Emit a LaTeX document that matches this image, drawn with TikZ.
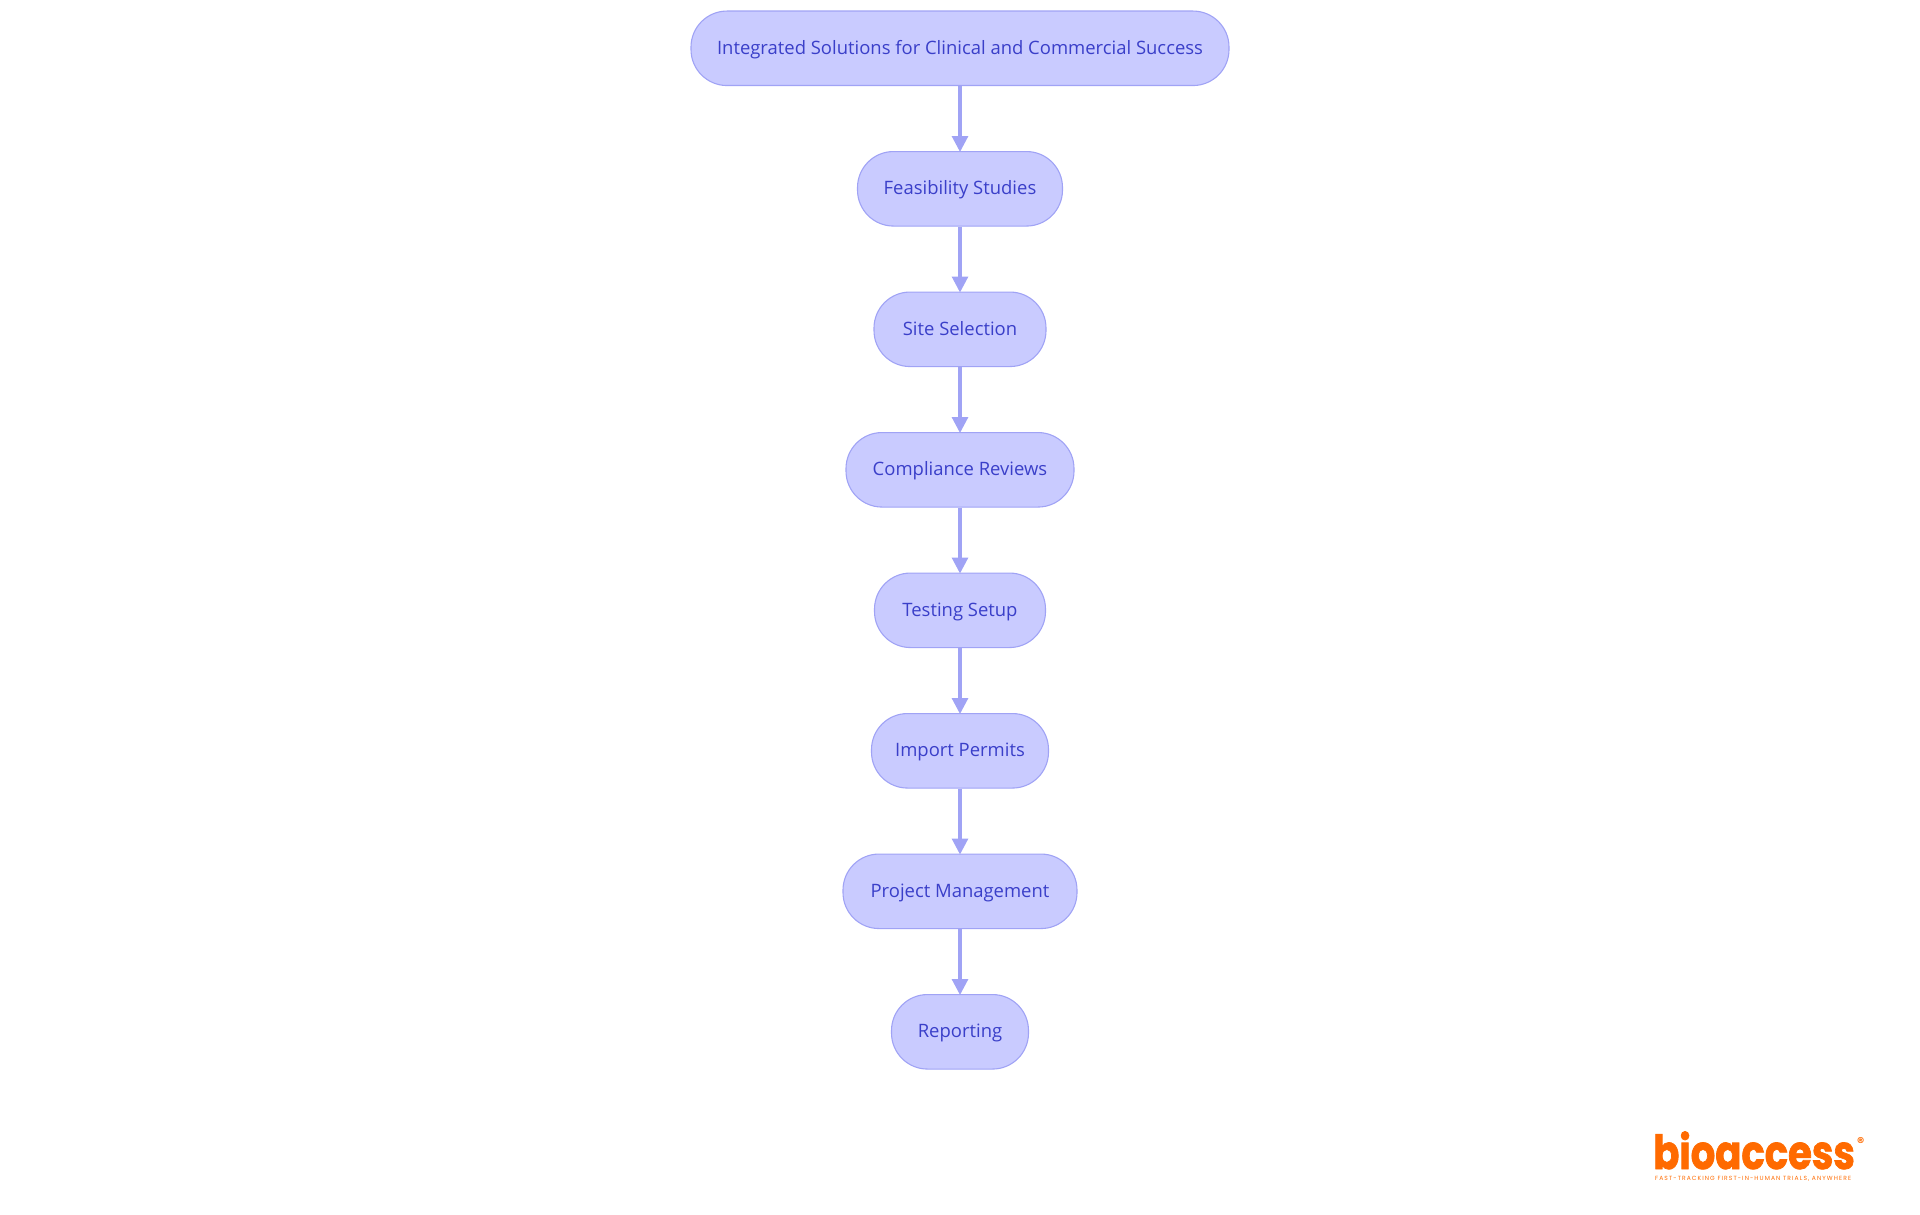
\documentclass[tikz,border=0pt]{standalone}
\usepackage{fontspec}
\setmainfont{Open Sans}
\newfontfamily\logofont[FakeStretch=0.82,FakeBold=1.5]{Poppins}
\newfontfamily\tagfont[LetterSpace=18]{Poppins}
\newfontfamily\regfont{Poppins}
\usetikzlibrary{arrows.meta}
\definecolor{nodefill}{HTML}{C9CBFF}
\definecolor{nodeline}{HTML}{A0A3F5}
\definecolor{nodetext}{HTML}{3A3FC9}
\definecolor{logoorange}{HTML}{FF6A00}
\tikzset{
  flowbox/.style={draw=nodeline,fill=nodefill,text=nodetext,line width=1.1pt,rounded corners=36pt,
    minimum height=74.5pt,inner sep=0pt,font=\fontsize{18.45pt}{23pt}\selectfont,text height=14pt,text depth=2.5pt},
  flowarrow/.style={draw=nodeline,line width=3.05pt,-{Triangle[length=16pt,width=16pt,fill=nodeline]},shorten >=-1pt},
  logotext/.style={text=logoorange,inner sep=0pt,anchor=base west}
}
\begin{document}
\begin{tikzpicture}[x=1pt,y=-1pt]
\useasboundingbox (0,0) rectangle (1920,1215);
\node[flowbox,minimum width=538pt] (a) at (960,48.3) {Integrated Solutions for Clinical and Commercial Success};
\node[flowbox,minimum width=205pt] (b) at (960,188.8) {Feasibility Studies};
\node[flowbox,minimum width=172pt] (c) at (960,329.3) {Site Selection};
\node[flowbox,minimum width=228pt] (d) at (960,469.8) {Compliance Reviews};
\node[flowbox,minimum width=171pt] (e) at (960,610.3) {Testing Setup};
\node[flowbox,minimum width=177pt] (f) at (960,750.8) {Import Permits};
\node[flowbox,minimum width=234pt] (g) at (960,891.3) {Project Management};
\node[flowbox,minimum width=137pt] (h) at (960,1031.8) {Reporting};
\draw[flowarrow] (a) -- (b);
\draw[flowarrow] (b) -- (c);
\draw[flowarrow] (c) -- (d);
\draw[flowarrow] (d) -- (e);
\draw[flowarrow] (e) -- (f);
\draw[flowarrow] (f) -- (g);
\draw[flowarrow] (g) -- (h);
\node[logotext,font=\logofont\bfseries\fontsize{47pt}{47pt}\selectfont] (logo) at (1653,1169) {bioaccess};
\node[logotext,font=\regfont\bfseries\fontsize{14pt}{14pt}\selectfont] (reg) at (1857,1147) {®};
\node[logotext,font=\tagfont\fontsize{6pt}{6pt}\selectfont] (tag) at (1655,1180) {FAST-TRACKING FIRST-IN-HUMAN TRIALS, ANYWHERE};
\end{tikzpicture}
\end{document}
